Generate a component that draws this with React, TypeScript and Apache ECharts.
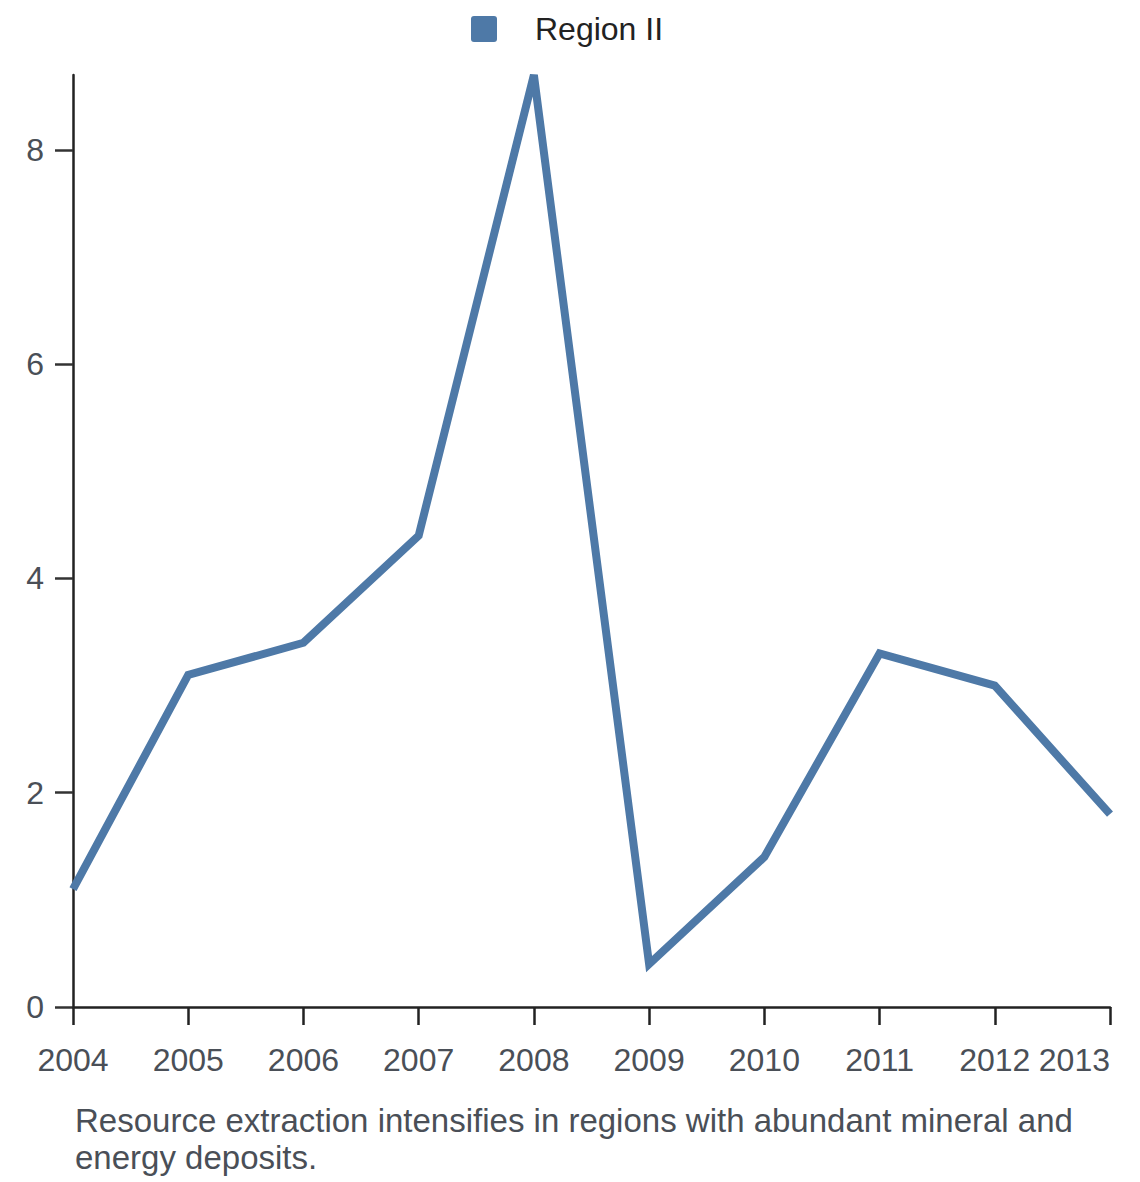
import React, { useEffect, useRef } from "react";
import * as echarts from "echarts";

const years = ["2004", "2005", "2006", "2007", "2008", "2009", "2010", "2011", "2012", "2013"];
const regionII = [1.1, 3.1, 3.4, 4.4, 8.7, 0.4, 1.4, 3.3, 3.0, 1.8];
const yTicks = [0, 2, 4, 6, 8];
const seriesName = "Region II";
const captionLines = [
  "Resource extraction intensifies in regions with abundant mineral and",
  "energy deposits.",
];

export default function App() {
  const ref = useRef<HTMLDivElement>(null);
  useEffect(() => {
    document.body.style.margin = "0";
    const chart = echarts.init(ref.current!, null, { renderer: "svg" });
    const font = "Arial, 'Liberation Sans', Helvetica, sans-serif";
    chart.setOption({
      animation: false,
      textStyle: { fontFamily: font },
      legend: {
        top: 8,
        left: 466,
        data: [seriesName],
        icon: "path://M3,0 H23 Q26,0 26,3 V23 Q26,26 23,26 H3 Q0,26 0,23 V3 Q0,0 3,0 Z",
        itemWidth: 26,
        itemHeight: 26,
        textStyle: { fontSize: 32, color: "#222", fontFamily: font, padding: [0, 0, 0, 33] },
      },
      title: {
        text: captionLines.join("\n"),
        left: 70,
        top: 1097,
        textStyle: {
          fontSize: 33,
          fontWeight: "normal",
          color: "#4a4f57",
          fontFamily: font,
          lineHeight: 37,
        },
      },
      grid: { left: 73, right: 30, top: 75, bottom: 175, containLabel: false },
      xAxis: {
        type: "category",
        data: years,
        boundaryGap: false,
        axisLine: { show: true, lineStyle: { color: "#222", width: 2.5 } },
        axisTick: { show: true, length: 18, interval: 0, lineStyle: { color: "#222", width: 2.5 } },
        axisLabel: {
          interval: 0,
          fontSize: 32,
          color: "#4a4f57",
          margin: 37,
          fontFamily: font,
          alignMaxLabel: "right",
        },
        splitLine: { show: false },
      },
      yAxis: {
        type: "value",
        min: 0,
        max: "dataMax",
        interval: 2,
        axisLine: { show: true, lineStyle: { color: "#222", width: 2.5 } },
        axisTick: { show: true, length: 18, customValues: yTicks, lineStyle: { color: "#333", width: 2.5 } },
        axisLabel: { fontSize: 32, color: "#4a4f57", margin: 29, fontFamily: font, customValues: yTicks },
        splitLine: { show: false },
      },
      series: [
        {
          name: seriesName,
          type: "line",
          data: regionII,
          showSymbol: false,
          symbol: "none",
          itemStyle: { color: "#4e79a7" },
          lineStyle: { color: "#4e79a7", width: 8, join: "miter" },
        },
      ],
    });
    return () => chart.dispose();
  }, []);
  return <div ref={ref} style={{ width: 1140, height: 1182 }} />;
}
